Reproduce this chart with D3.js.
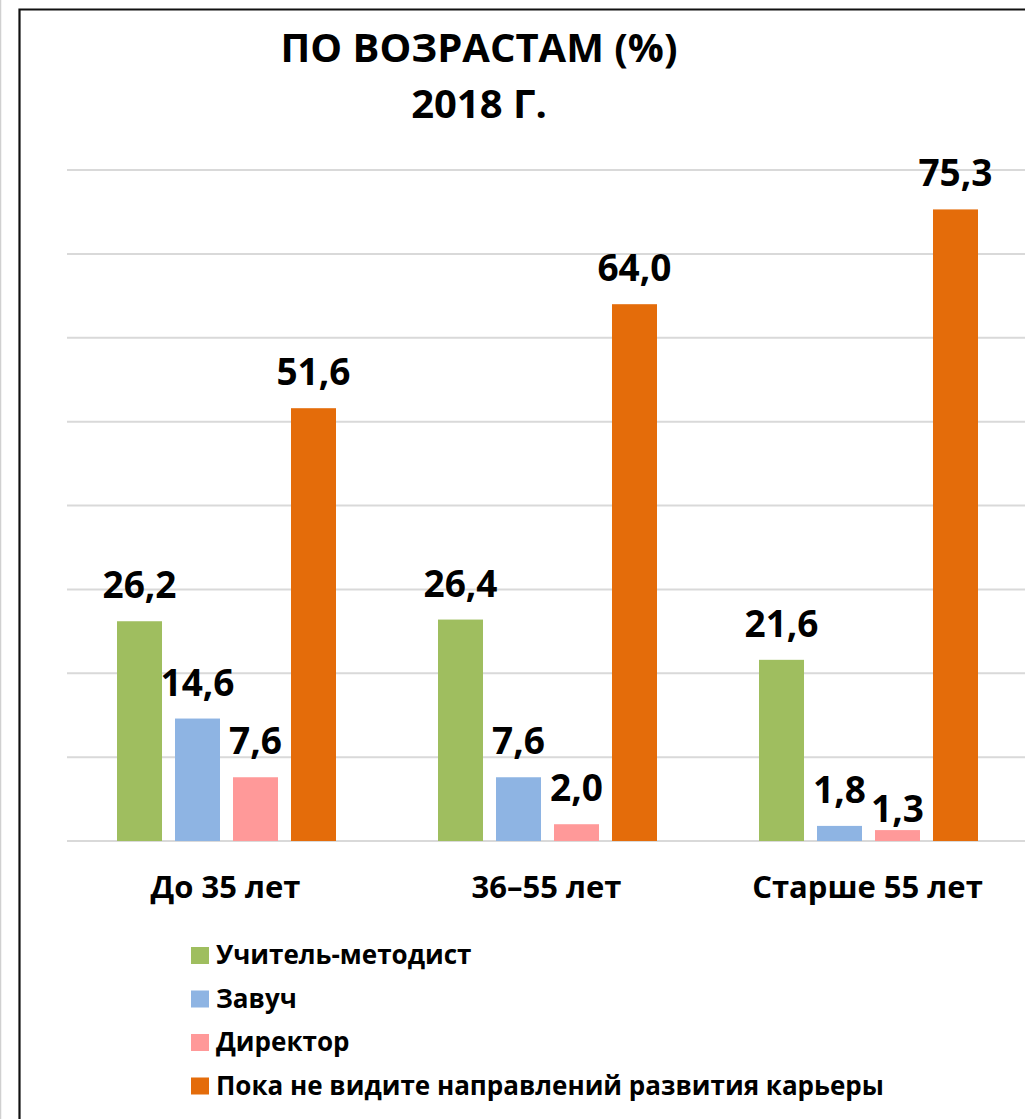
<!DOCTYPE html>
<html>
<head>
<meta charset="utf-8">
<script src="https://cdn.jsdelivr.net/npm/d3@7"></script>
<style>
  html, body { margin: 0; padding: 0; background: #fff; }
  svg { display: block; }
  text { font-family: "Open Sans", "Noto Sans", sans-serif; font-weight: 700; fill: #000; }
</style>
</head>
<body>
<script>
const categories = ["До 35 лет", "36–55 лет", "Старше 55 лет"];
const seriesNames = ["Учитель-методист", "Завуч", "Директор", "Пока не видите направлений развития карьеры"];
const seriesColors = ["#9FBE5F", "#8EB4E3", "#FF9999", "#E46C0A"];
const teacherMethodist = [26.2, 26.4, 21.6];
const deputyHead = [14.6, 7.6, 1.8];
const director = [7.6, 2.0, 1.3];
const noDirection = [51.6, 64.0, 75.3];
const yTicks = [0, 10, 20, 30, 40, 50, 60, 70, 80];
const titleLines = ["ПО ВОЗРАСТАМ (%)", "2018 Г."];

const seriesValues = [teacherMethodist, deputyHead, director, noDirection];

const W = 1025, H = 1119;
const LABEL_FS = 37;
const svg = d3.select("body").append("svg").attr("width", W).attr("height", H);

// outer lines
svg.append("line").attr("x1", 0.5).attr("x2", 0.5).attr("y1", 0).attr("y2", H)
  .attr("stroke", "#d0d0d0").attr("stroke-width", 1.5);
svg.append("path").attr("d", `M19.5,${H + 5} L19.5,9.5 L${W + 5},9.5`)
  .attr("fill", "none").attr("stroke", "#111").attr("stroke-width", 2.2);

const y = d3.scaleLinear().domain([0, 80]).range([841, 170]);
const x0 = d3.scaleBand().domain(categories).range([66, 1029]).paddingInner(0).paddingOuter(0);
const x1 = d3.scaleBand().domain(seriesNames).range([51, 270]).paddingInner(0.224).paddingOuter(0);

// gridlines
svg.append("g").selectAll("line").data(yTicks).join("line")
  .attr("x1", 67).attr("x2", W)
  .attr("y1", d => y(d)).attr("y2", d => y(d))
  .attr("stroke", "#d9d9d9").attr("stroke-width", 2);

// bars
const groups = svg.append("g").selectAll("g").data(categories).join("g")
  .attr("transform", d => `translate(${x0(d)},0)`);

groups.each(function(cat, ci) {
  const g = d3.select(this);
  const data = seriesNames.map((s, si) => ({ s, si, v: seriesValues[si][ci] }));
  g.selectAll("rect").data(data).join("rect")
    .attr("x", d => x1(d.s))
    .attr("width", x1.bandwidth())
    .attr("y", d => y(d.v))
    .attr("height", d => y(0) - y(d.v))
    .attr("fill", d => seriesColors[d.si]);
  const labels = g.selectAll("text").data(data).join("text")
    .attr("x", d => x1(d.s) + x1.bandwidth() / 2)
    .attr("y", d => y(d.v) - 23)
    .attr("text-anchor", "middle")
    .attr("font-size", LABEL_FS)
    .text(d => d.v.toFixed(1).replace(".", ","));
  // simple collision avoidance: tuck a label down toward its bar if its glyphs hit its left neighbour
  const nodes = labels.nodes();
  for (let i = 1; i < nodes.length; i++) {
    const a = nodes[i - 1].getBBox(), b = nodes[i].getBBox();
    const ya = +d3.select(nodes[i - 1]).attr("y"), yb = +d3.select(nodes[i]).attr("y");
    const hGap = b.x - (a.x + a.width);
    const vOverlap = Math.min(ya, yb) + 0.15 * LABEL_FS - (Math.max(ya, yb) - 0.72 * LABEL_FS);
    if (hGap < 12 && vOverlap > 0 && Math.abs(ya - yb) < 0.72 * LABEL_FS) {
      d3.select(nodes[i]).attr("y", y(data[i].v) - 8);
    }
  }
});

// category labels
svg.append("g").selectAll("text").data(categories).join("text")
  .attr("x", d => x0(d) + x0.bandwidth() / 2 - 1)
  .attr("y", 898)
  .attr("text-anchor", "middle")
  .attr("font-size", 31)
  .text(d => d);

// title
svg.append("g").selectAll("text").data(titleLines).join("text")
  .attr("x", 479)
  .attr("y", (d, i) => 62 + i * 56)
  .attr("text-anchor", "middle")
  .attr("font-size", 40)
  .text(d => d);

// legend
const leg = svg.append("g").selectAll("g").data(seriesNames).join("g")
  .attr("transform", (d, i) => `translate(191,${947 + i * 43.5})`);
leg.append("rect").attr("width", 18).attr("height", 17).attr("fill", (d, i) => seriesColors[i]);
leg.append("text").attr("x", 25).attr("y", 17).attr("font-size", 26).text(d => d);
</script>
</body>
</html>
